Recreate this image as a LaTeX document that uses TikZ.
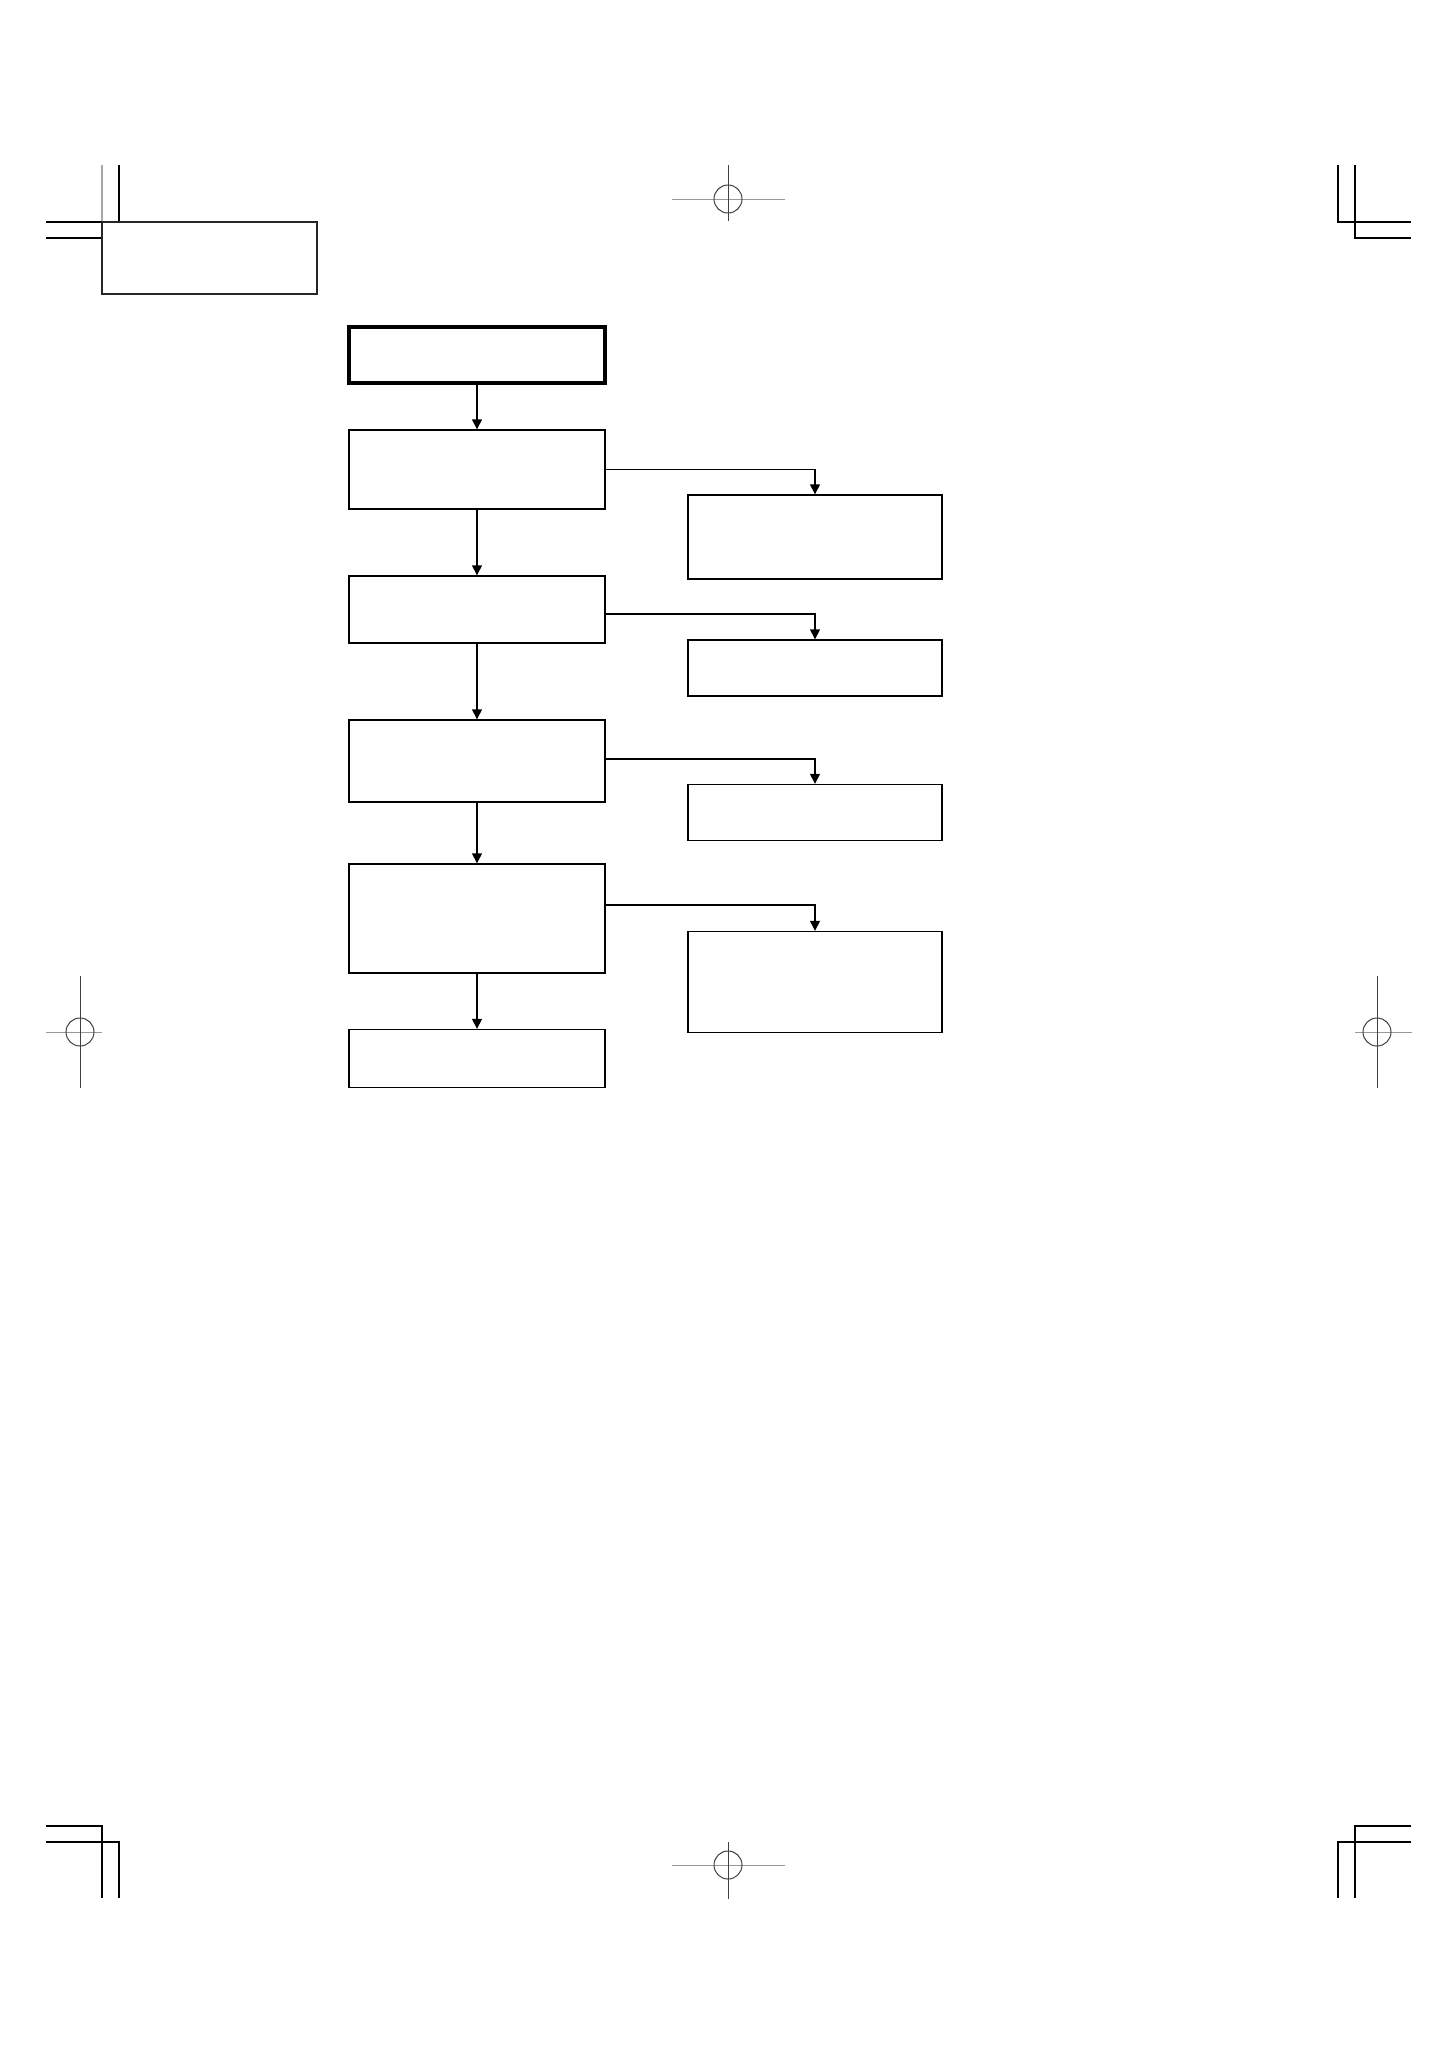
\documentclass[tikz,border=0pt]{standalone}
\usetikzlibrary{arrows.meta}

\tikzset{
  box/.style={draw, minimum width=256pt, inner sep=0pt},
  crop/.style={-, line width=1.3pt},
  reg/.style={-, line width=1pt, black!75},
  regh/.style={-, line width=1pt, black!40},
}

\begin{document}
\begin{tikzpicture}[->, >={Triangle[length=10pt,width=10pt]}, x=1pt, y=-1pt, line width=1.4pt]
\useasboundingbox (0,0) rectangle (1456,2064);

\draw[crop, black!35] (102,165) -- (102,238);
\draw[crop] (119,165) -- (119,222);
\draw[crop] (46,222) -- (102,222);
\draw[crop] (46,238) -- (102,238);
\draw[crop] (1338,165) -- (1338,222) -- (1411,222);
\draw[crop] (1355,165) -- (1355,238) -- (1411,238);
\draw[crop] (46,1826) -- (102,1826) -- (102,1898);
\draw[crop] (46,1842) -- (119,1842) -- (119,1898);
\draw[crop] (1411,1826) -- (1355,1826) -- (1355,1898);
\draw[crop] (1411,1842) -- (1338,1842) -- (1338,1898);

\draw[regh] (672,199) -- (785,199);
\draw[reg] (728,165) -- (728,221);
\draw[reg] (728,199) circle[radius=14pt];
\draw[regh] (672,1865) -- (785,1865);
\draw[reg] (728,1842) -- (728,1899);
\draw[reg] (728,1865) circle[radius=14pt];
\draw[regh] (46,1032) -- (102,1032);
\draw[reg] (80,976) -- (80,1088);
\draw[reg] (80,1032) circle[radius=14pt];
\draw[regh] (1355,1032) -- (1412,1032);
\draw[reg] (1377,976) -- (1377,1088);
\draw[reg] (1377,1032) circle[radius=14pt];

\node[draw=black!85, line width=2pt, minimum width=215pt, minimum height=72pt, inner sep=0pt] (head) at (209.5,258) {};

\node[box, line width=3.5pt, minimum height=56pt] (start) at (477,355) {};
\node[box, minimum height=79pt] (m1) at (477,469.5) {};
\node[box, minimum height=67pt] (m2) at (477,609.5) {};
\node[box, minimum height=82pt] (m3) at (477,761) {};
\node[box, minimum height=109pt] (m4) at (477,918.5) {};
\node[box, minimum height=58pt] (m5) at (477,1058.5) {};

\node[box, minimum width=254pt, minimum height=84pt] (r1) at (815,537) {};
\node[box, minimum width=254pt, minimum height=56pt] (r2) at (815,668) {};
\node[box, minimum width=254pt, minimum height=56pt] (r3) at (815,812.5) {};
\node[box, minimum width=254pt, minimum height=101pt] (r4) at (815,982) {};

\path (start) edge (m1);
\path (m1) edge (m2);
\path (m2) edge (m3);
\path (m3) edge (m4);
\path (m4) edge (m5);

\draw (m1.east) -| (r1.north);
\draw ([yshift=-4.5pt]m2.east) -| (r2.north);
\draw ([yshift=2pt]m3.east) -| (r3.north);
\draw ([yshift=13.5pt]m4.east) -| (r4.north);

\end{tikzpicture}
\end{document}
